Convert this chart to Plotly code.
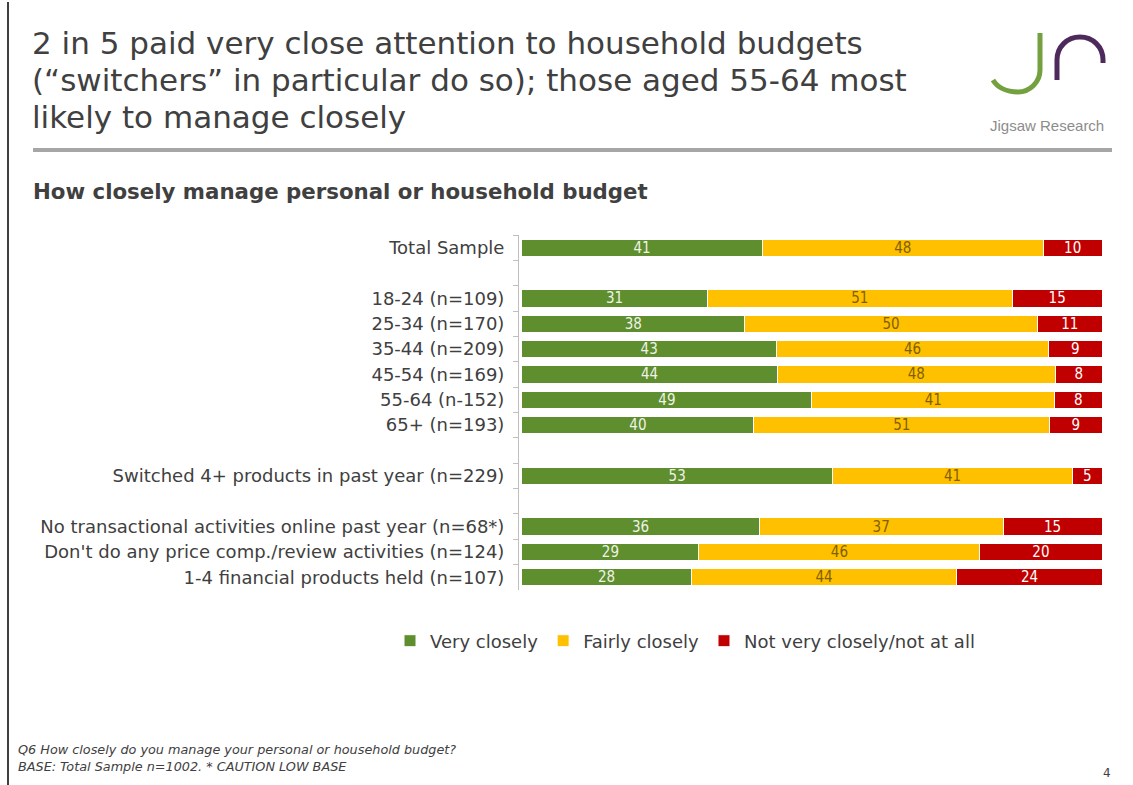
import plotly.graph_objects as go

# Survey results (%), one entry per row; blank rows separate the groups
categories = [
    "Total Sample",
    " ",
    "18-24 (n=109)",
    "25-34 (n=170)",
    "35-44 (n=209)",
    "45-54 (n=169)",
    "55-64 (n-152)",
    "65+ (n=193)",
    "  ",
    "Switched 4+ products in past year (n=229)",
    "   ",
    "No transactional activities online past year (n=68*)",
    "Don't do any price comp./review activities (n=124)",
    "1-4 financial products held (n=107)",
]
very_closely = [41, None, 31, 38, 43, 44, 49, 40, None, 53, None, 36, 29, 28]
fairly_closely = [48, None, 51, 50, 46, 48, 41, 51, None, 41, None, 37, 46, 44]
not_closely = [10, None, 15, 11, 9, 8, 8, 9, None, 5, None, 15, 20, 24]

series_names = ["Very closely", "Fairly closely", "Not very closely/not at all"]
series_values = [very_closely, fairly_closely, not_closely]
colors = ["#5E8E2E", "#FFC000", "#C00000"]
label_colors = ["#EEF3E6", "#7F6000", "#FFFFFF"]

title_lines = [
    "2 in 5 paid very close attention to household budgets",
    "(\u201cswitchers\u201d in particular do so); those aged 55-64 most",
    "likely to manage closely",
]

W, H = 1133, 785
PL, PR, PT, PB = 519, 1102, 235, 590  # plot area in pixels


def px_x(px):
    return (px - PL) / (PR - PL)


def px_y(py):
    return (PB - py) / (PB - PT)


def px_path(points_cmds):
    out = []
    for item in points_cmds:
        if isinstance(item, str):
            out.append(item)
        else:
            out.append(f"{px_x(item[0]):.5f},{px_y(item[1]):.5f}")
    return " ".join(out)


LABEL_FONT = "DejaVu Sans, sans-serif"
VALUE_FONT = "Liberation Sans Narrow, DejaVu Sans Condensed, sans-serif"

fig = go.Figure()
for name, vals, col, lcol in zip(series_names, series_values, colors, label_colors):
    fig.add_trace(go.Bar(
        y=categories,
        x=vals,
        name=name,
        orientation="h",
        marker=dict(color=col, line=dict(color="#FFFFFF", width=1)),
        text=["" if v is None else str(v) for v in vals],
        textposition="inside",
        insidetextanchor="middle",
        textangle=0,
        textfont=dict(family=VALUE_FONT, size=15, color=lcol),
        hoverinfo="skip",
    ))

shapes = [
    # page border on the left
    dict(type="line", xref="paper", yref="paper",
         x0=px_x(8), x1=px_x(8), y0=px_y(2), y1=px_y(785),
         line=dict(color="#3F3F3F", width=2)),
    # rule under the headline
    dict(type="line", xref="paper", yref="paper",
         x0=px_x(33), x1=px_x(1112), y0=px_y(150), y1=px_y(150),
         line=dict(color="#A6A6A6", width=4)),
    # logo: the "J"
    dict(type="path", xref="paper", yref="paper",
         path=px_path(["M", (1040, 33), "L", (1040, 70), "C", (1040, 82), (1030, 92), (1018, 92),
                       "C", (1006, 92), (997, 87), (993, 80)]),
         line=dict(color="#74A040", width=5)),
    # logo: the "r"
    dict(type="path", xref="paper", yref="paper",
         path=px_path(["M", (1057, 80), "L", (1057, 60), "C", (1057, 47), (1067, 37), (1080, 37),
                       "C", (1093, 37), (1103, 47), (1103, 60), "L", (1103, 63)]),
         line=dict(color="#4E2A5C", width=5)),
]

annotations = []
for line, cy in zip(title_lines, [43, 80, 117]):
    annotations.append(dict(
        text=line, xref="paper", yref="paper", x=px_x(30), y=px_y(cy),
        xanchor="left", yanchor="middle", align="left", showarrow=False,
        font=dict(family=LABEL_FONT, size=31, color="#404040")))

annotations += [
    dict(text="<b>How closely manage personal or household budget</b>",
         xref="paper", yref="paper", x=px_x(31), y=px_y(192),
         xanchor="left", yanchor="middle", align="left", showarrow=False,
         font=dict(family=LABEL_FONT, size=21.3, color="#404040")),
    dict(text="Jigsaw Research",
         xref="paper", yref="paper", x=px_x(1047), y=px_y(126),
         xanchor="center", yanchor="middle", showarrow=False,
         font=dict(family="Liberation Sans, Arial, sans-serif", size=15, color="#8C8C8C")),
    dict(text="<i>Q6 How closely do you manage your personal or household budget?<br>"
              "BASE: Total Sample n=1002. * CAUTION LOW BASE</i>",
         xref="paper", yref="paper", x=px_x(16), y=px_y(758),
         xanchor="left", yanchor="middle", align="left", showarrow=False,
         font=dict(family=LABEL_FONT, size=12.8, color="#404040")),
    dict(text="4",
         xref="paper", yref="paper", x=px_x(1107), y=px_y(773),
         xanchor="center", yanchor="middle", showarrow=False,
         font=dict(family=LABEL_FONT, size=12, color="#404040")),
]

fig.update_layout(
    width=W, height=H,
    margin=dict(l=PL, r=W - PR, t=PT, b=H - PB, pad=0),
    paper_bgcolor="#FFFFFF", plot_bgcolor="#FFFFFF",
    barmode="stack", barnorm="percent", bargap=0.32,
    showlegend=True,
    legend=dict(orientation="h", x=px_x(390), y=px_y(641),
                xanchor="left", yanchor="middle",
                font=dict(family=LABEL_FONT, size=18, color="#404040"),
                traceorder="normal", itemwidth=30),
    uniformtext=dict(minsize=12, mode="show"),
    xaxis=dict(range=[-0.5, 100], visible=False, fixedrange=True),
    yaxis=dict(type="category", categoryorder="array", categoryarray=categories,
               autorange="reversed", showline=True, linecolor="#BFBFBF", linewidth=1,
               ticks="outside", tickson="boundaries", ticklen=5, tickcolor="#BFBFBF",
               showgrid=False, zeroline=False, ticklabelstandoff=10,
               tickfont=dict(family=LABEL_FONT, size=18, color="#404040")),
    shapes=shapes,
    annotations=annotations,
)

fig.write_html("out.html")
